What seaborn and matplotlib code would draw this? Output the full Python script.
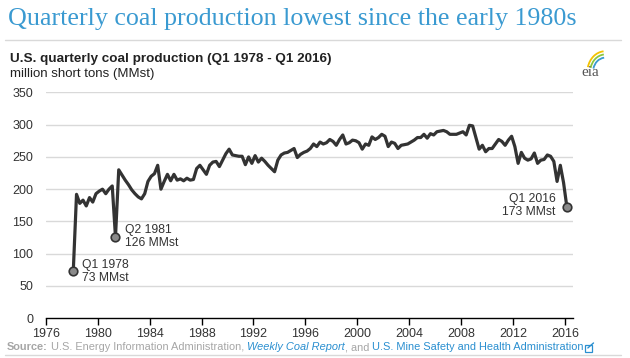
import pandas as pd
import seaborn as sns
import matplotlib.pyplot as plt
from matplotlib.patches import Arc, Rectangle
from matplotlib.lines import Line2D

# quarterly U.S. coal production, million short tons, Q1 1978 - Q1 2016
quarters = pd.period_range("1978Q1", "2016Q1", freq="Q")
production = [
    73, 192, 178, 183,    # 1978
    174, 187, 180, 193,   # 1979
    197, 200, 193, 200,   # 1980
    205, 126, 230, 222,   # 1981
    214, 207, 199, 193,   # 1982
    188, 185, 193, 212,   # 1983
    220, 224, 237, 200,   # 1984
    212, 223, 213, 223,   # 1985
    214, 216, 213, 217,   # 1986
    214, 215, 232, 237,   # 1987
    230, 223, 237, 242,   # 1988
    243, 235, 245, 255,   # 1989
    262, 253, 252, 251,   # 1990
    251, 238, 250, 240,   # 1991
    252, 242, 248, 243,   # 1992
    237, 232, 227, 245,   # 1993
    253, 256, 257, 260,   # 1994
    263, 249, 254, 257,   # 1995
    259, 263, 270, 266,   # 1996
    273, 270, 272, 277,   # 1997
    274, 268, 277, 284,   # 1998
    270, 272, 276, 275,   # 1999
    272, 262, 270, 268,   # 2000
    281, 277, 280, 285,   # 2001
    282, 266, 273, 271,   # 2002
    263, 268, 269, 270,   # 2003
    273, 276, 280, 280,   # 2004
    285, 279, 286, 284,   # 2005
    289, 290, 291, 289,   # 2006
    285, 285, 285, 287,   # 2007
    289, 284, 299, 298,   # 2008
    280, 262, 268, 258,   # 2009
    263, 263, 270, 277,   # 2010
    274, 268, 276, 282,   # 2011
    266, 240, 257, 248,   # 2012
    245, 247, 256, 240,   # 2013
    245, 246, 253, 251,   # 2014
    243, 212, 237, 210,   # 2015
    173,                  # 2016
]
callout_quarters = ["1978Q1", "1981Q2", "2016Q1"]
callout_labels = ["Q1 1978\n73 MMst", "Q2 1981\n126 MMst", "Q1 2016\n173 MMst"]
year_ticks = list(range(1976, 2017, 4))
value_ticks = list(range(0, 351, 50))

df = pd.DataFrame({"quarter": quarters, "MMst": production})
# place each quarter at its middle
df["t"] = df["quarter"].dt.year + (df["quarter"].dt.quarter - 0.5) / 4

sns.set_style("white")
plt.rcParams["font.family"] = ["Liberation Sans", "DejaVu Sans"]

fig = plt.figure(figsize=(6.3, 3.58), dpi=100)
ax = fig.add_axes([0.0725, 0.111, 0.837, 0.631])

for v in value_ticks[1:]:
    ax.axhline(v, color="#d9d9d9", linewidth=1.0, zorder=0)

sns.lineplot(data=df, x="t", y="MMst", color="#333333", linewidth=2.3, ax=ax, zorder=3)

pts = df[df["quarter"].astype(str).isin(callout_quarters)]
sns.scatterplot(data=pts, x="t", y="MMst", color="#8a8a8a", edgecolor="#333333",
                s=38, linewidth=1.2, zorder=5, ax=ax, legend=False)

offsets = [(6, 0, "left"), (7, 0, "left"), (-8, 1, "right")]
for (q, lab), (dx, dy, ha) in zip(zip(callout_quarters, callout_labels), offsets):
    row = df[df["quarter"].astype(str) == q].iloc[0]
    ax.annotate(lab, (row["t"], row["MMst"]), xytext=(dx, dy), textcoords="offset points",
                ha=ha, va="center", fontsize=8.7, color="#333333", linespacing=1.1)

ax.set_xlim(1976, 2016.6)
ax.set_ylim(0, 350)
ax.set_xticks(year_ticks)
ax.set_yticks(value_ticks)
ax.set_xlabel("")
ax.set_ylabel("")
for s in ["top", "right", "left"]:
    ax.spines[s].set_visible(False)
ax.spines["bottom"].set_color("#000000")
ax.spines["bottom"].set_linewidth(1.0)
ax.tick_params(axis="x", length=5, width=1, color="#000000", labelsize=9,
               labelcolor="#333333", pad=2, bottom=True)
ax.tick_params(axis="y", length=0, labelsize=9, labelcolor="#333333", pad=9)

# header
fig.text(0.012, 0.948, "Quarterly coal production lowest since the early 1980s",
         family="Liberation Serif", fontsize=18.7, color="#3a9ad1", va="center")
fig.add_artist(Line2D([0.008, 0.985], [0.888, 0.888], color="#d9d9d9", linewidth=1))
fig.text(0.016, 0.836, "U.S. quarterly coal production (Q1 1978 - Q1 2016)",
         fontsize=9.7, fontweight="bold", color="#222222", va="center")
fig.text(0.016, 0.794, "million short tons (MMst)", fontsize=9.5, color="#222222", va="center")

# eia logo
lax = fig.add_axes([0.91, 0.77, 0.06, 0.1])
lax.set_xlim(0, 1)
lax.set_ylim(0, 1)
lax.axis("off")
lax.text(0.45, 0.28, "eia", family="Liberation Serif", fontsize=11, color="#555555",
         ha="center", va="center")
for r, c in [(0.95, "#f2c200"), (0.8, "#8cc63f"), (0.65, "#3a9ad1")]:
    lax.add_patch(Arc((0.85, 0.3), r, r * 1.2, theta1=95, theta2=165, color=c, linewidth=1.3))

# source line, drawn piece by piece
renderer = fig.canvas.get_renderer()
pieces = [
    ("Source:", dict(color="#a6a6a6", fontweight="bold")),
    (" U.S. Energy Information Administration, ", dict(color="#a6a6a6")),
    ("Weekly Coal Report", dict(color="#2a8fd0", style="italic")),
    (", and ", dict(color="#a6a6a6")),
    ("U.S. Mine Safety and Health Administration", dict(color="#2a8fd0")),
]
x = 0.011
y = 0.03
for s, st in pieces:
    t = fig.text(x, y, s, fontsize=7.9, va="center", **st)
    bb = t.get_window_extent(renderer)
    x = bb.x1 / fig.bbox.width
fig.add_artist(Rectangle((x + 0.002, y - 0.013), 0.011, 0.019, fill=False,
                         edgecolor="#2a8fd0", linewidth=0.9, transform=fig.transFigure))
fig.add_artist(Line2D([x + 0.007, x + 0.016], [y - 0.002, y + 0.012], color="#2a8fd0",
                      linewidth=1.0))
fig.add_artist(Line2D([0.008, 0.985], [0.008, 0.008], color="#d9d9d9", linewidth=1))

fig.savefig("out.png", dpi=100)
